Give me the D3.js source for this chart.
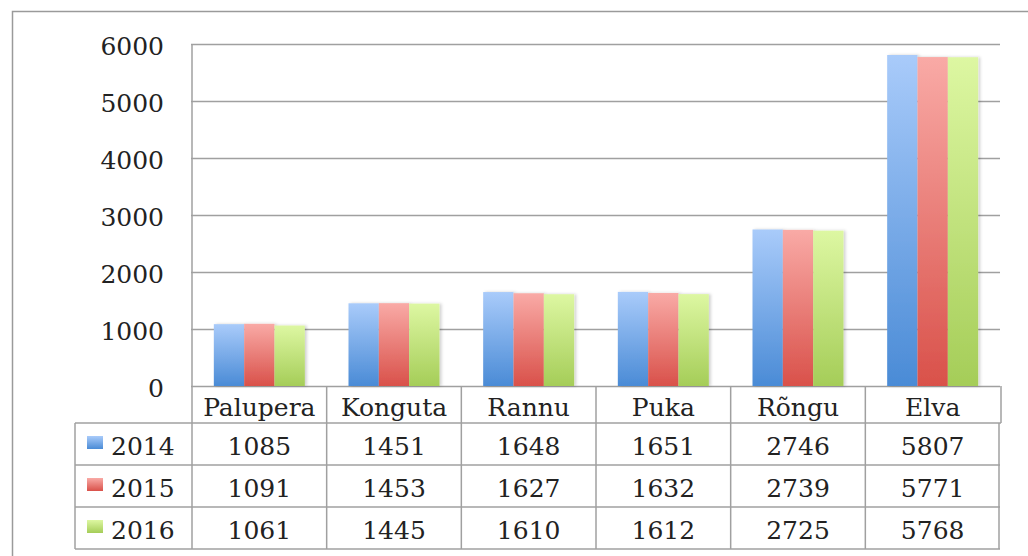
<!DOCTYPE html>
<html>
<head>
<meta charset="utf-8">
<script src="https://cdn.jsdelivr.net/npm/d3@7"></script>
<style>
  body { margin: 0; background: #fff; }
  text { font-family: "DejaVu Serif", serif; fill: #222; }
</style>
</head>
<body>
<script>
var categories = ["Palupera", "Konguta", "Rannu", "Puka", "Rõngu", "Elva"];
var years = ["2014", "2015", "2016"];
var values2014 = [1085, 1451, 1648, 1651, 2746, 5807];
var values2015 = [1091, 1453, 1627, 1632, 2739, 5771];
var values2016 = [1061, 1445, 1610, 1612, 2725, 5768];
var yTicks = [0, 1000, 2000, 3000, 4000, 5000, 6000];

var series = [values2014, values2015, values2016];
// gradient top / bottom per year
var colors = [["#a9cbfa", "#4a8bd6"], ["#f9aaa6", "#d9514a"], ["#ddf7a2", "#a5cd58"]];

var W = 1028, H = 556;
var m = { left: 192, right: 1000, top: 44, bottom: 386 };
var rowH = 42, headH = 37, legX = 75;
var fs = 25;

var svg = d3.select("body").append("svg").attr("width", W).attr("height", H);
var defs = svg.append("defs");
colors.forEach(function(c, i) {
    var g = defs.append("linearGradient").attr("id", "g" + i)
        .attr("x1", 0).attr("y1", 0).attr("x2", 0).attr("y2", 1);
    g.append("stop").attr("offset", "0%").attr("stop-color", c[0]);
    g.append("stop").attr("offset", "100%").attr("stop-color", c[1]);
});
defs.append("filter").attr("id", "sh").attr("x", "-20%").attr("width", "150%")
    .append("feDropShadow").attr("dx", 2).attr("dy", 0).attr("stdDeviation", 1.5)
    .attr("flood-color", "#000").attr("flood-opacity", 0.18);

// outer frame (only top and left visible)
svg.append("path").attr("d", "M12.5,556 V11.5 H1028")
    .attr("fill", "none").attr("stroke", "#9a9a9a").attr("stroke-width", 1.5);

var y = d3.scaleLinear().domain([0, 6000]).range([m.bottom, m.top]);
var x0 = d3.scaleBand().domain(categories).range([m.left, m.right]);
var x1 = d3.scaleBand().domain(years).range([0, x0.bandwidth()]).paddingOuter(0.72);

// grid + labels
var yAxis = d3.axisLeft(y).tickValues(yTicks).tickSize(-(m.right - m.left + 1))
    .tickPadding(27).tickFormat(d3.format("d"));
var ga = svg.append("g").attr("transform", "translate(" + (m.left - 1) + ",0)").call(yAxis);
ga.select(".domain").remove();
ga.selectAll("line").attr("stroke", "#a0a0a0").attr("stroke-width", 1.5);
ga.selectAll("text").attr("font-size", fs).attr("font-family", "DejaVu Serif")
    .attr("fill", "#222").attr("dy", "0.42em");

svg.append("line").attr("x1", m.left).attr("x2", m.left)
    .attr("y1", m.top).attr("y2", m.bottom)
    .attr("stroke", "#a0a0a0").attr("stroke-width", 1.5);

// bars
var groups = svg.append("g").selectAll("g").data(categories).enter().append("g")
    .attr("transform", function(d) { return "translate(" + x0(d) + ",0)"; });
groups.selectAll("rect").data(function(d, ci) {
    return series.map(function(s, si) { return { year: years[si], v: s[ci], i: si }; });
}).enter().append("rect")
    .attr("x", function(d) { return x1(d.year); })
    .attr("y", function(d) { return y(d.v); })
    .attr("width", x1.bandwidth())
    .attr("height", function(d) { return y(0) - y(d.v); })
    .attr("fill", function(d) { return "url(#g" + d.i + ")"; })
    .attr("filter", "url(#sh)");

// data table
var tb = svg.append("g");
var lc = "#a0a0a0";
var tTop = m.bottom, rTop = m.bottom + headH;
// header row
tb.append("line").attr("x1", m.left).attr("x2", m.right + 1).attr("y1", rTop).attr("y2", rTop)
    .attr("stroke", lc).attr("stroke-width", 1.5);
categories.forEach(function(c) {
    tb.append("line").attr("x1", x0(c)).attr("x2", x0(c)).attr("y1", tTop).attr("y2", rTop + rowH * 3)
        .attr("stroke", lc).attr("stroke-width", 1.5);
    tb.append("text").attr("x", x0(c) + x0.bandwidth() / 2).attr("y", tTop + headH / 2)
        .attr("dy", "0.45em").attr("text-anchor", "middle").attr("font-size", fs).text(c);
});
tb.append("line").attr("x1", m.right + 1).attr("x2", m.right + 1).attr("y1", tTop).attr("y2", rTop)
    .attr("stroke", lc).attr("stroke-width", 1.5);
tb.append("line").attr("x1", m.right - 1).attr("x2", m.right - 1).attr("y1", rTop).attr("y2", rTop + rowH * 3)
    .attr("stroke", lc).attr("stroke-width", 1.5);
// legend column + rows
tb.append("line").attr("x1", legX).attr("x2", legX).attr("y1", rTop).attr("y2", rTop + rowH * 3)
    .attr("stroke", lc).attr("stroke-width", 1.5);
for (var r = 0; r <= 3; r++) {
    tb.append("line").attr("x1", legX).attr("x2", r == 0 ? m.left : m.right)
        .attr("y1", rTop + r * rowH).attr("y2", rTop + r * rowH)
        .attr("stroke", lc).attr("stroke-width", 1.5);
}
series.forEach(function(s, si) {
    var cy = rTop + si * rowH + rowH / 2;
    tb.append("rect").attr("x", 87).attr("y", cy - 8).attr("width", 16).attr("height", 13)
        .attr("fill", "url(#g" + si + ")");
    tb.append("text").attr("x", 111).attr("y", cy).attr("dy", "0.45em")
        .attr("font-size", fs).text(years[si]);
    s.forEach(function(v, ci) {
        tb.append("text").attr("x", x0(categories[ci]) + x0.bandwidth() / 2).attr("y", cy)
            .attr("dy", "0.45em").attr("text-anchor", "middle").attr("font-size", fs).text(v);
    });
});
</script>
</body>
</html>
